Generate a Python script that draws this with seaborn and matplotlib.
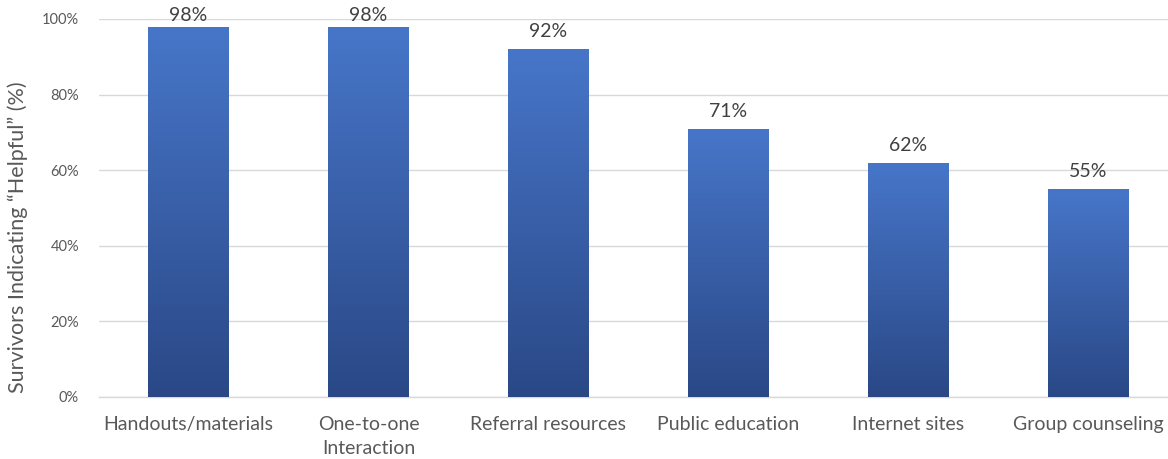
import numpy as np
import pandas as pd
import matplotlib
matplotlib.use("Agg")
import matplotlib.pyplot as plt
from matplotlib.colors import LinearSegmentedColormap
import seaborn as sns

categories = ["Handouts/materials", "One-to-one\nInteraction", "Referral resources",
              "Public education", "Internet sites", "Group counseling"]
helpful_pct = [98, 98, 92, 71, 62, 55]
y_ticks = [0, 20, 40, 60, 80, 100]

sns.set_theme(style="white")
plt.rcParams["font.family"] = ["Lato", "DejaVu Sans"]

text_gray = "#595959"
grid_gray = "#d9d9d9"

df = pd.DataFrame({"category": categories, "pct": helpful_pct})

fig = plt.figure(figsize=(11.68, 4.59), dpi=100)
# axes extend slightly past the right edge of the canvas
ax = fig.add_axes([98.5 / 1168, 1 - 397 / 459, 1080 / 1168, 378 / 459])

sns.barplot(data=df, x="category", y="pct", ax=ax, width=0.45,
            color="#3a63b0", saturation=1, zorder=3)

ax.set_ylim(0, 100)
ax.set_xlim(-0.5, len(categories) - 0.5)
ax.set_yticks(y_ticks)
ax.set_yticklabels([f"{t}%" for t in y_ticks], color=text_gray, fontsize=10.5)
ax.tick_params(axis="y", length=0, pad=14)
ax.tick_params(axis="x", length=0, pad=14, labelsize=14, labelcolor=text_gray)
ax.set_xlabel("")
ax.set_ylabel("")
for lbl in ax.get_xticklabels():
    lbl.set_linespacing(1.5)

# axis title, placed at the same spot as the spreadsheet layout
fig.text(18 / 1168, 1 - 237 / 459, "Survivors Indicating \u201cHelpful\u201d (%)",
         rotation=90, ha="center", va="center", color=text_gray, fontsize=15.5)

ax.yaxis.grid(True, color=grid_gray, linewidth=1, zorder=0)
ax.set_axisbelow(True)
for side in ["left", "right", "top"]:
    ax.spines[side].set_visible(False)
ax.spines["bottom"].set_color(grid_gray)
ax.spines["bottom"].set_linewidth(1)

# vertical gradient fill for each bar
cmap = LinearSegmentedColormap.from_list("bar_grad", ["#2a4886", "#4776c9"])
grad = np.linspace(0, 1, 256).reshape(-1, 1)
for patch in ax.patches:
    x0, y0 = patch.get_x(), patch.get_y()
    w, h = patch.get_width(), patch.get_height()
    patch.set_facecolor("none")
    patch.set_edgecolor("none")
    im = ax.imshow(grad, cmap=cmap, origin="lower", aspect="auto",
                   extent=[x0, x0 + w, y0, y0 + h], zorder=3)
    im.set_clip_path(patch)

ax.set_xlim(-0.5, len(categories) - 0.5)
ax.set_ylim(0, 100)

# value labels above bars, kept inside the plot area
for i, v in enumerate(helpful_pct):
    y = min(v + 2.4, 98.6)
    ax.text(i, y, f"{v}%", ha="center", va="bottom", fontsize=14,
            color="#404040", zorder=4, clip_on=False)

fig.savefig("out.png", dpi=100)
